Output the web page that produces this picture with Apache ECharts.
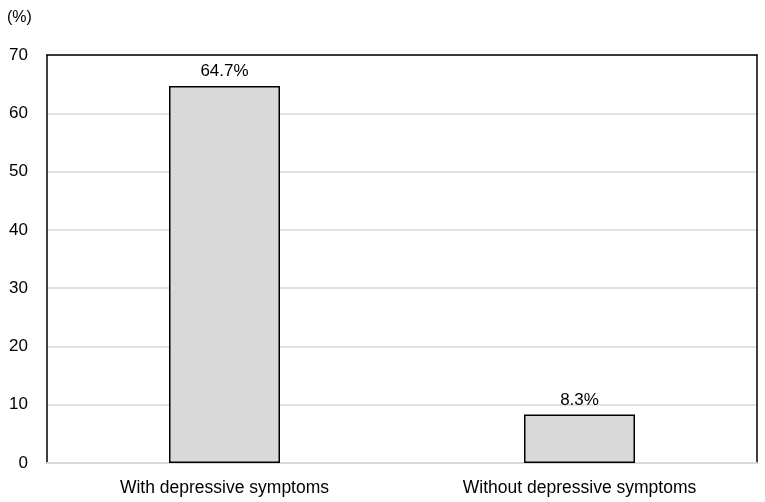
<!DOCTYPE html>
<html>
<head>
<meta charset="utf-8">
<script src="https://cdn.jsdelivr.net/npm/echarts@6/dist/echarts.min.js"></script>
<style>
  html, body { margin: 0; padding: 0; background: #fff; }
  #chart { width: 765px; height: 502px; }
</style>
</head>
<body>
<div id="chart"></div>
<script>
var categories = ['With depressive symptoms', 'Without depressive symptoms'];
var values = [64.7, 8.3];
var yTicks = [0, 10, 20, 30, 40, 50, 60, 70];

var myChart = echarts.init(document.getElementById('chart'));
var font = 'Liberation Sans';
var frame = { show: true, onZero: false, lineStyle: { color: '#000', width: 1.5 } };

var option = {
  animation: false,
  title: {
    text: '(%)',
    left: 2,
    top: 5,
    textStyle: { fontFamily: font, fontSize: 16, fontWeight: 'normal', color: '#000' }
  },
  grid: { left: 47, right: 8, top: 55, bottom: 39 },
  xAxis: [{
    type: 'category',
    data: categories,
    axisLine: { show: true, lineStyle: { color: '#d9d9d9', width: 2 } },
    axisTick: { show: false },
    axisLabel: { fontFamily: font, fontSize: 17.5, color: '#000', margin: 16 }
  }, {
    type: 'category',
    position: 'top',
    data: categories,
    axisLine: frame,
    axisTick: { show: false },
    axisLabel: { show: false }
  }],
  yAxis: [{
    type: 'value',
    min: yTicks[0],
    max: yTicks[yTicks.length - 1],
    interval: 10,
    axisLine: frame,
    axisTick: { show: false },
    splitLine: { lineStyle: { color: '#d9d9d9', width: 1.5 } },
    axisLabel: { fontFamily: font, fontSize: 17, color: '#000', margin: 19 }
  }, {
    type: 'value',
    position: 'right',
    min: yTicks[0],
    max: yTicks[yTicks.length - 1],
    interval: 10,
    axisLine: frame,
    axisTick: { show: false },
    splitLine: { show: false },
    axisLabel: { show: false }
  }],
  series: [{
    type: 'bar',
    data: values,
    barWidth: 111,
    itemStyle: { color: '#d9d9d9', borderColor: '#000', borderWidth: 1.5 },
    label: {
      show: true,
      position: 'top',
      distance: 6,
      formatter: function (p) { return p.value.toFixed(1) + '%'; },
      fontFamily: font,
      fontSize: 17,
      color: '#000'
    }
  }]
};
myChart.setOption(option);
</script>
</body>
</html>
